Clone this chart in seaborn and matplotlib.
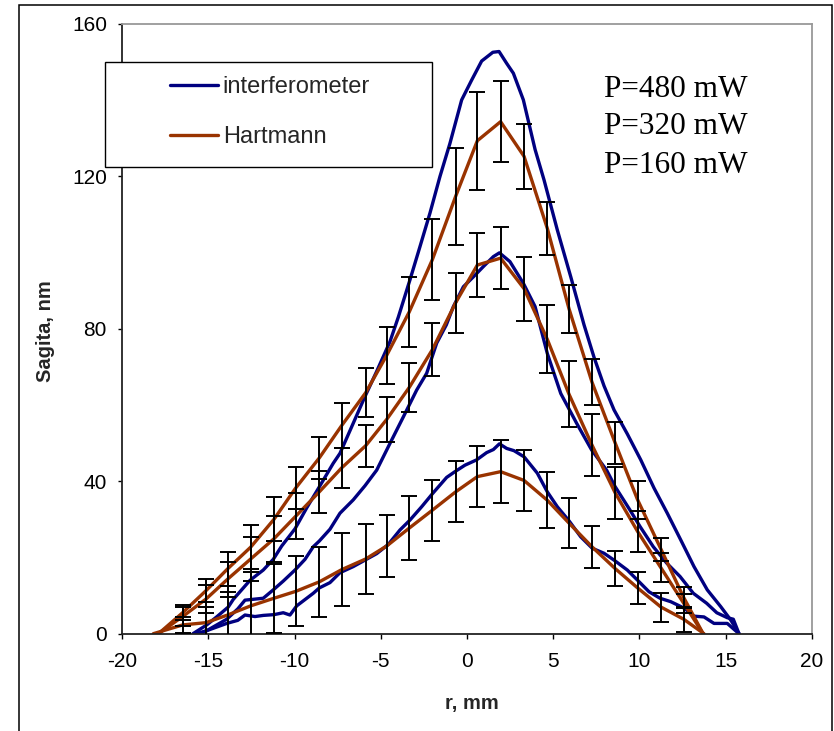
import numpy as np
import pandas as pd
import matplotlib
matplotlib.use("Agg")
import matplotlib.pyplot as plt
import seaborn as sns
from matplotlib.patches import Rectangle
from matplotlib.lines import Line2D

# -------------------------------
# Data
# -------------------------------
# interferometer profiles, r in mm, sagita in nm
i480_r = [-15.9, -15.1, -14.5, -13.85, -13.56, -12.59, -11.82, -11.24, -10.75, -9.98,
          -9.3, -8.57, -7.76, -7.37, -6.6, -5.92, -5.24, -4.47, -3.98, -3.31,
          -2.73, -2.15, -1.57, -0.99, -0.31, 0.27, 0.85, 1.5, 1.86, 2.3,
          2.69, 3.27, 3.5, 3.95, 4.47, 5.24, 6.02, 6.79, 7.37, 7.95,
          8.53, 9.3, 10.08, 10.85, 11.62, 12.4, 13.17, 13.94, 14.72, 15.3, 15.78]
i480_s = [0.0, 2.3, 4.5, 7.0, 9.0, 14.0, 16.7, 19.5, 23.0, 27.5,
          33.0, 38.5, 44.7, 47.3, 55.2, 62.2, 68.8, 76.6, 83.1, 92.8,
          101.5, 110.3, 119.9, 128.6, 140.0, 145.2, 150.2, 152.5, 152.7, 149.6,
          147.0, 140.0, 135.6, 127.0, 119.0, 105.9, 93.6, 81.0, 72.5, 65.0,
          58.7, 52.4, 45.6, 38.2, 31.6, 24.6, 17.6, 11.5, 7.1, 3.6, 0.0]

i320_r = [-15.5, -15.1, -13.94, -13.3, -12.88, -11.82, -11.24, -10.66, -9.98, -9.4,
          -8.92, -8.57, -7.95, -7.37, -6.6, -5.92, -5.24, -4.47, -3.69, -2.92,
          -2.34, -1.76, -1.2, -0.79, -0.21, 0.37, 0.95, 1.53, 1.88, 2.49,
          3.27, 3.95, 4.66, 5.44, 6.36, 7.23, 8.1, 8.59, 9.46, 10.04,
          10.81, 11.59, 12.36, 13.13, 13.9, 14.49, 15.1, 15.45, 15.78]
i320_s = [0.0, 0.8, 3.8, 6.5, 8.8, 9.3, 11.5, 13.8, 16.7, 19.5,
          22.8, 24.3, 27.4, 31.6, 35.1, 38.8, 42.9, 49.9, 56.9, 63.9,
          68.3, 76.2, 81.0, 85.8, 91.0, 93.6, 96.3, 98.9, 99.9, 97.6,
          91.9, 85.8, 73.5, 63.0, 55.2, 48.2, 42.9, 38.6, 32.4, 28.1,
          22.8, 18.5, 15.0, 10.6, 8.0, 5.5, 4.2, 3.8, 0.0]

i160_r = [-15.7, -15.1, -13.94, -13.3, -12.88, -12.3, -11.82, -11.2, -10.66, -10.27,
          -9.88, -8.92, -8.57, -7.95, -7.37, -6.6, -5.92, -5.24, -4.57, -3.89,
          -3.31, -2.63, -1.99, -1.18, -0.7, -0.12, 0.56, 1.14, 1.53, 1.88,
          2.3, 2.73, 3.31, 4.08, 4.66, 5.24, 5.92, 6.6, 7.27, 7.95,
          8.53, 9.3, 9.88, 10.56, 11.2, 11.82, 12.6, 13.17, 13.75, 14.33,
          15.1, 15.78]
i160_s = [0.0, 0.8, 2.7, 3.5, 4.9, 4.5, 4.8, 5.0, 5.5, 4.9,
          7.3, 10.6, 12.0, 13.4, 16.0, 17.6, 19.3, 21.0, 23.4, 27.2,
          29.8, 33.3, 36.8, 41.0, 42.5, 44.2, 45.6, 47.5, 48.3, 49.8,
          48.6, 48.0, 46.4, 42.1, 37.2, 33.3, 29.6, 25.4, 22.4, 21.1,
          19.3, 16.7, 14.1, 11.0, 9.3, 8.4, 6.7, 4.6, 4.4, 2.7,
          2.7, 0.0]

# Hartmann sensor points (with error bars)
hart_r = [-16.5, -15.14, -13.89, -12.55, -11.2, -9.94, -8.57, -7.27, -5.88, -4.66,
          -3.35, -2.01, -0.66, 0.6, 1.95, 3.31, 4.66, 5.92, 7.25, 8.59,
          9.9, 11.25, 12.57]
h480 = [5.5, 11.3, 17.0, 22.7, 30.0, 38.2, 46.1, 54.6, 63.2, 73.0,
        84.4, 98.1, 114.7, 129.3, 134.3, 125.2, 106.3, 85.2, 66.0, 50.1,
        35.1, 22.2, 9.5]
e480 = [2.0, 3.0, 4.4, 5.7, 5.8, 5.6, 5.5, 6.0, 6.4, 7.5,
        9.1, 10.6, 12.7, 12.9, 10.7, 8.5, 7.0, 6.3, 6.0, 5.5,
        5.0, 3.0, 2.8]
h320 = [4.5, 9.1, 14.3, 19.6, 24.9, 30.8, 37.2, 43.5, 49.3, 56.2,
        64.6, 74.5, 86.8, 96.7, 98.5, 90.5, 77.2, 62.8, 49.5, 37.0,
        26.8, 17.3, 8.0]
e320 = [2.5, 3.8, 4.6, 5.7, 6.0, 6.0, 5.6, 5.2, 5.5, 6.0,
        6.4, 6.9, 7.8, 8.3, 8.2, 8.4, 8.9, 8.7, 8.1, 6.8,
        5.3, 3.8, 2.5]
h160 = [2.3, 2.9, 4.9, 7.3, 9.3, 11.1, 13.6, 16.8, 19.6, 23.0,
        27.7, 32.4, 37.2, 41.2, 42.5, 40.2, 35.0, 29.0, 22.8, 17.1,
        12.0, 7.0, 3.8]
e160 = [2.0, 4.0, 6.0, 9.0, 9.0, 9.2, 9.2, 9.6, 9.2, 8.2,
        8.4, 8.0, 8.0, 8.0, 8.2, 8.0, 7.4, 6.5, 5.5, 4.6,
        4.3, 3.8, 3.3]
# where the Hartmann curves meet zero
hart_ends = {"480": (-17.9, 13.7), "320": (-17.9, 13.7), "160": (-18.2, 13.75)}

power_labels = ["P=480 mW", "P=320 mW", "P=160 mW"]

# -------------------------------
# Style
# -------------------------------
sns.set_style("white")
plt.rcParams["font.family"] = ["Liberation Sans", "DejaVu Sans"]
plt.rcParams["axes.unicode_minus"] = False

BLUE = "#000080"
BROWN = "#993300"

fig = plt.figure(figsize=(8.34, 7.31), dpi=100)
ax = fig.add_axes([0.1466, 0.1331, 0.8267, 0.8345])

# interferometer curves
for r, s in [(i480_r, i480_s), (i320_r, i320_s), (i160_r, i160_s)]:
    sns.lineplot(x=r, y=s, sort=False, color=BLUE, lw=2.4, ax=ax, zorder=2)

# Hartmann curves + error bars
for key, h, e in [("480", h480, e480), ("320", h320, e320), ("160", h160, e160)]:
    left, right = hart_ends[key]
    df = pd.DataFrame({"r": [left] + hart_r + [right], "s": [0.0] + h + [0.0]})
    sns.lineplot(data=df, x="r", y="s", sort=False, color=BROWN, lw=2.4, ax=ax, zorder=2.5)
    ax.errorbar(hart_r, h, yerr=e, fmt="none", ecolor="black", elinewidth=1.4,
                capsize=5.5, capthick=1.4, zorder=3)

ax.set_xlim(-20, 20)
ax.set_ylim(0, 160)
ax.set_xticks(np.arange(-20, 21, 5))
ax.set_yticks([0, 40, 80, 120, 160])
ax.set_xlabel("")
ax.set_ylabel("")
ax.tick_params(axis="x", direction="out", length=3.4, width=1.0, pad=10, labelsize=15, colors="black")
ax.tick_params(axis="y", direction="out", length=3.0, width=1.0, pad=8, labelsize=15, colors="black")
ax.tick_params(bottom=True, left=True)
for side in ["left", "bottom"]:
    ax.spines[side].set_color("#222222")
    ax.spines[side].set_linewidth(1.3)
for side in ["top", "right"]:
    ax.spines[side].set_color("#999999")
    ax.spines[side].set_linewidth(1.3)

# power annotations
for i, txt in enumerate(power_labels):
    ax.text(0.6987, [0.8803, 0.8187, 0.7557][i], txt, transform=ax.transAxes,
            family=["Liberation Serif", "DejaVu Serif"], fontsize=22.5,
            va="baseline", ha="left", color="black")

# axis titles
fig.text(45.5 / 834, 1 - 331 / 731, "Sagita, nm", rotation=90, ha="center", va="center",
         fontsize=14.5, fontweight="bold")
fig.text(471.8 / 834, 1 - 703 / 731, "r, mm", ha="center", va="center",
         fontsize=14.5, fontweight="bold")

# legend box and entries
fig.patches.append(Rectangle((105 / 834, 1 - 167 / 731), 327 / 834, 105 / 731,
                             transform=fig.transFigure, facecolor="white",
                             edgecolor="black", lw=1.0, zorder=1))
handles = [Line2D([], [], color=BLUE, lw=2.4), Line2D([], [], color=BROWN, lw=2.4)]
fig.legend(handles, ["interferometer", "Hartmann"], loc="upper left",
           bbox_to_anchor=(170 / 834, 1 - 76 / 731), bbox_transform=fig.transFigure,
           frameon=False, fontsize=17, handlelength=2.03, handletextpad=0.2,
           labelspacing=1.2, borderpad=0, borderaxespad=0)

# outer chart frame
fig.patches.append(Rectangle((19 / 834, -0.02), 813 / 834, 1.02 - 5 / 731,
                             transform=fig.transFigure, facecolor="none",
                             edgecolor="black", lw=1.1, zorder=0.5))

fig.savefig("out.png", dpi=100)
